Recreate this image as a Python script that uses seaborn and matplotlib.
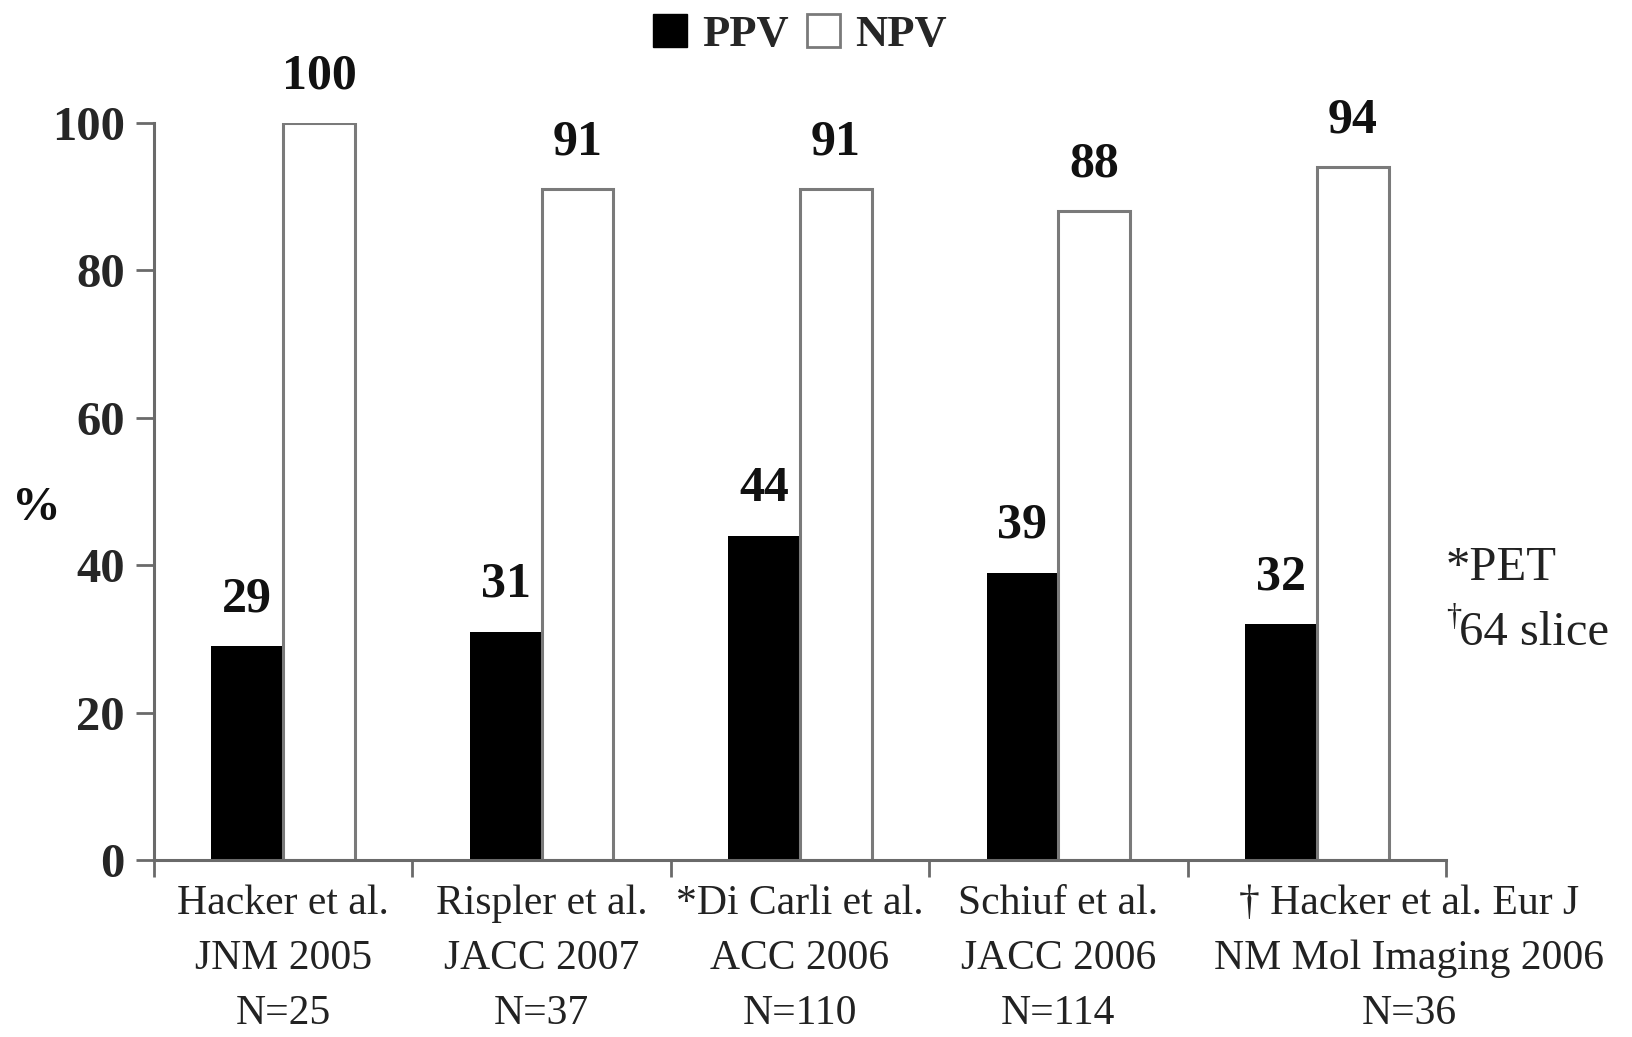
import matplotlib
matplotlib.use("Agg")
import matplotlib.pyplot as plt
import matplotlib.transforms as mtransforms
from matplotlib.patches import Patch
import seaborn as sns
import pandas as pd

studies = [
    "Hacker et al.\nJNM 2005\nN=25",
    "Rispler et al.\nJACC 2007\nN=37",
    "*Di Carli et al.\nACC 2006\nN=110",
    "Schiuf et al.\nJACC 2006\nN=114",
    "\u2020 Hacker et al. Eur J\nNM Mol Imaging 2006\nN=36",
]
ppv = [29, 31, 44, 39, 32]
npv = [100, 91, 91, 88, 94]
measures = ["PPV", "NPV"]
yticks = [0, 20, 40, 60, 80, 100]

df = pd.DataFrame({
    "study": studies * 2,
    "measure": ["PPV"] * len(studies) + ["NPV"] * len(studies),
    "value": ppv + npv,
})

sns.set_style("ticks")
plt.rcParams["font.family"] = ["Liberation Serif", "DejaVu Serif"]

spine_col = "#6a6a6a"
text_col = "#222222"
fig = plt.figure(figsize=(16.33, 10.37), dpi=100)
ax = fig.add_axes([0.0943, 0.1707, 0.7912, 0.7107])

sns.barplot(data=df, x="study", y="value", hue="measure", hue_order=measures,
            order=studies, palette={"PPV": "black", "NPV": "white"},
            width=0.556, gap=0, legend=False, ax=ax, saturation=1)

for patch in ax.containers[0]:
    patch.set_edgecolor("black")
    patch.set_linewidth(0)
for patch in ax.containers[1]:
    patch.set_edgecolor("#7a7a7a")
    patch.set_linewidth(2.2)

for cont, vals in zip(ax.containers, [ppv, npv]):
    ax.bar_label(cont, labels=[str(v) for v in vals], padding=17,
                 fontsize=36, fontweight="bold", color="#111111")

ax.set_xlim(-0.5, len(studies) - 0.5)
ax.set_ylim(0, 100)
ax.set_yticks(yticks)
ax.set_yticklabels([str(t) for t in yticks], fontsize=35, fontweight="bold")
ax.tick_params(axis="y", direction="out", length=13, width=2, color=spine_col,
               pad=8)

ax.set_xticks(range(len(studies)))
ax.set_xticklabels(studies, fontsize=30, color=text_col, linespacing=1.55)
ax.tick_params(axis="x", which="major", length=0, pad=18)
ax.set_xticks([i - 0.5 for i in range(len(studies) + 1)], minor=True)
ax.tick_params(axis="x", which="minor", direction="out", length=12, width=2,
               color=spine_col)

last = ax.get_xticklabels()[-1]
last.set_transform(last.get_transform() +
                   mtransforms.ScaledTranslation(0.92, 0, fig.dpi_scale_trans))

ax.set_xlabel("")
ax.set_ylabel("")
fig.text(0.022, 0.51, "%", fontsize=35, fontweight="bold", ha="center",
         va="center", color="#111111")

sns.despine(ax=ax)
for side in ("left", "bottom"):
    ax.spines[side].set_color(spine_col)
    ax.spines[side].set_linewidth(2.2)

fig.text(0.8855, 0.452, "*PET", fontsize=35, color=text_col, va="center")
fig.text(0.8855, 0.405, "\u2020", fontsize=22, color=text_col, va="center")
fig.text(0.8935, 0.39, "64 slice", fontsize=35, color=text_col, va="center")

handles = [Patch(facecolor="black", edgecolor="black"),
           Patch(facecolor="white", edgecolor="#7a7a7a", linewidth=2)]
fig.legend(handles, measures, loc="upper center", bbox_to_anchor=(0.49, 1.025),
           ncol=2, frameon=False, handlelength=0.75, handleheight=0.75,
           handletextpad=0.35, columnspacing=0.4,
           prop={"size": 32, "weight": "bold", "family": "Liberation Serif"})

fig.savefig("out.png", dpi=100)
